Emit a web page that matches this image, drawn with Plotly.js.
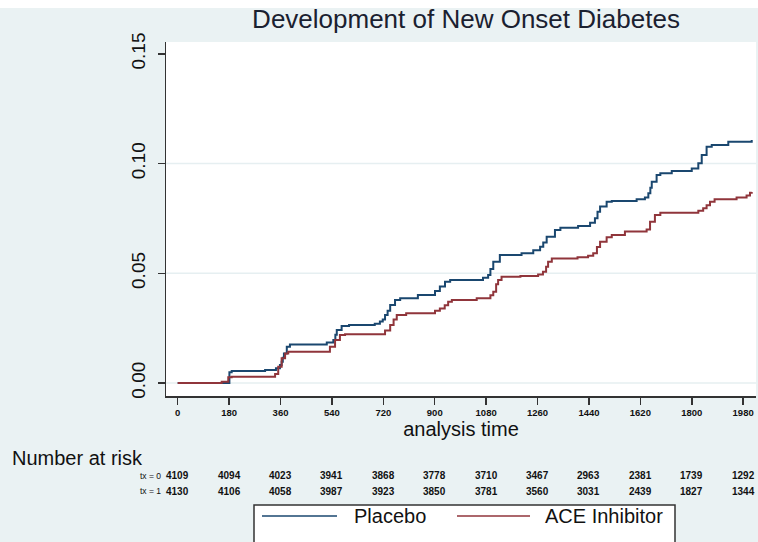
<!DOCTYPE html>
<html>
<head>
<meta charset="utf-8">
<script src="https://cdn.plot.ly/plotly-3.0.1.min.js"></script>
<style>html,body{margin:0;padding:0;background:#eaf2f3;}#chart{width:758px;height:542px;}</style>
</head>
<body>
<div id="chart"></div>
<script>
// ---- data ----
const seriesNames = ["Placebo", "ACE Inhibitor"];
const placeboDays = [0,181,189,306,344,358,364,368,372,382,393,522,545,552,557,574,600,690,708,718,726,735,744,761,779,841,901,918,936,954,1069,1087,1095,1105,1128,1204,1245,1269,1280,1292,1321,1340,1402,1444,1461,1470,1479,1502,1520,1607,1636,1648,1655,1660,1677,1690,1730,1800,1823,1835,1852,1870,1928,2010];
const placeboRisk = [0,0.0049,0.0055,0.0059,0.0067,0.0082,0.0097,0.0115,0.0135,0.0165,0.0176,0.0185,0.0196,0.0220,0.0242,0.0260,0.0264,0.0270,0.0280,0.0290,0.0310,0.0330,0.0356,0.0378,0.0386,0.0401,0.0420,0.0440,0.0462,0.0470,0.0480,0.0492,0.0520,0.0553,0.0583,0.0591,0.0605,0.0621,0.0640,0.0667,0.0697,0.0708,0.0716,0.0730,0.0751,0.0780,0.0804,0.0826,0.0830,0.0837,0.0845,0.0865,0.0890,0.0917,0.0948,0.0956,0.0966,0.0978,0.1001,0.1039,0.1077,0.1085,0.1100,0.1108];
const aceDays = [0,154,177,189,341,352,364,376,387,533,551,568,586,726,744,756,767,800,901,918,935,947,960,1047,1095,1105,1115,1122,1134,1200,1262,1279,1290,1297,1310,1400,1437,1455,1468,1479,1502,1520,1566,1642,1654,1671,1690,1823,1840,1852,1864,1880,1957,1992,2004,2010];
const aceRisk = [0,0.0006,0.0026,0.0029,0.0041,0.0074,0.0113,0.0135,0.0143,0.0165,0.0196,0.0219,0.0222,0.0240,0.0264,0.0290,0.0310,0.0318,0.0330,0.0340,0.0355,0.0370,0.0378,0.0386,0.0400,0.0416,0.0450,0.0470,0.0484,0.0488,0.0495,0.0507,0.0530,0.0553,0.0568,0.0573,0.0580,0.0591,0.0620,0.0644,0.0664,0.0675,0.0690,0.0700,0.0735,0.0766,0.0776,0.0785,0.0796,0.0810,0.0826,0.0837,0.0846,0.0855,0.0867,0.0870];
const riskTimes = [0,180,360,540,720,900,1080,1260,1440,1620,1800,1980];
const riskPlacebo = [4109,4094,4023,3941,3868,3778,3710,3467,2963,2381,1739,1292];
const riskACE = [4130,4106,4058,3987,3923,3850,3781,3560,3031,2439,1827,1344];
const riskRowLabels = ["tx = 0", "tx = 1"];
const yTicks = [0, 0.05, 0.10, 0.15];
const gridVals = [0, 0.05, 0.10];

// ---- layout geometry (pixels) ----
const W = 758, H = 542, L = 166, R = 756, T = 42, B = 396;
const px = x => (x - L) / (R - L);
const py = y => (B - y) / (B - T);
const FONT = "'Liberation Sans', Arial, sans-serif";
const colors = ["#1a476f", "#90353b"];

const traces = [
  {x: placeboDays, y: placeboRisk, name: seriesNames[0], type: "scatter", mode: "lines",
   line: {shape: "hv", color: colors[0], width: 2}},
  {x: aceDays, y: aceRisk, name: seriesNames[1], type: "scatter", mode: "lines",
   line: {shape: "hv", color: colors[1], width: 2}}
];

const shapes = [];
const annotations = [];
// gridlines
gridVals.forEach(v => shapes.push({type: "line", xref: "paper", yref: "y", x0: 0, x1: 1, y0: v, y1: v,
  line: {color: "#e6eff1", width: 1.5}, layer: "below"}));
// white strip at top
shapes.push({type: "rect", xref: "paper", yref: "paper", x0: px(0), x1: px(W), y0: py(0), y1: py(8),
  fillcolor: "#ffffff", line: {width: 0}, layer: "below"});

// number at risk table
annotations.push({xref: "paper", yref: "paper", x: px(10), y: py(458), xanchor: "left", yanchor: "middle",
  text: "Number at risk", showarrow: false, font: {family: FONT, size: 20, color: "#111"}});
const rowY = [476, 491];
[riskPlacebo, riskACE].forEach((row, r) => {
  annotations.push({xref: "paper", yref: "paper", x: px(163), y: py(rowY[r]), xanchor: "right", yanchor: "middle",
    text: riskRowLabels[r], showarrow: false, font: {family: FONT, size: 8.5, color: "#111"}});
  row.forEach((n, i) => annotations.push({xref: "x", yref: "paper", x: riskTimes[i], y: py(rowY[r]),
    xanchor: "center", yanchor: "middle", text: String(n), showarrow: false,
    font: {family: FONT, size: 10, color: "#111", weight: "bold"}}));
});

// legend (drawn manually to match the long line samples)
shapes.push({type: "rect", xref: "paper", yref: "paper", x0: px(254), x1: px(675), y0: py(505), y1: py(560),
  fillcolor: "#ffffff", line: {color: "#333", width: 1.5}});
const legLine = [[262, 337], [457, 530]];
const legText = [352, 543];
seriesNames.forEach((nm, i) => {
  shapes.push({type: "line", xref: "paper", yref: "paper", x0: px(legLine[i][0]), x1: px(legLine[i][1]),
    y0: py(516), y1: py(516), line: {color: colors[i], width: 1.5}});
  annotations.push({xref: "paper", yref: "paper", x: px(legText[i]), y: py(516), xanchor: "left", yanchor: "middle",
    text: nm, showarrow: false, font: {family: FONT, size: 20, color: "#111"}});
});

const layout = {
  width: W, height: H,
  paper_bgcolor: "#eaf2f3", plot_bgcolor: "#ffffff",
  margin: {l: L, r: W - R, t: T, b: H - B, pad: 0},
  showlegend: false,
  title: {text: "Development of New Onset Diabetes", x: 466 / W, xanchor: "center", xref: "container",
    y: 1 - 19 / H, yanchor: "middle", yref: "container", font: {family: FONT, size: 26, color: "#1a2130"}},
  xaxis: {range: [-41, 2025], tickvals: riskTimes, ticktext: riskTimes.map(String), ticks: "outside", ticklen: 7,
    tickwidth: 1.5, tickcolor: "#333", showline: true, linecolor: "#333", linewidth: 1.5, showgrid: false,
    zeroline: false, tickfont: {family: FONT, size: 9.5, color: "#111", weight: "bold"},
    title: {text: "analysis time", font: {family: FONT, size: 20, color: "#111"}, standoff: 2}},
  yaxis: {range: [-0.0059, 0.1554], tickvals: yTicks, ticktext: yTicks.map(v => v.toFixed(2)), ticks: "outside",
    ticklen: 7, tickwidth: 1.5, tickcolor: "#333", showline: true, linecolor: "#333", linewidth: 1.5,
    showgrid: false, zeroline: false, tickangle: -90, ticklabelstandoff: 5,
    tickfont: {family: FONT, size: 19, color: "#111"}},
  shapes: shapes, annotations: annotations
};

Plotly.newPlot("chart", traces, layout, {displayModeBar: false, staticPlot: true});
</script>
</body>
</html>
